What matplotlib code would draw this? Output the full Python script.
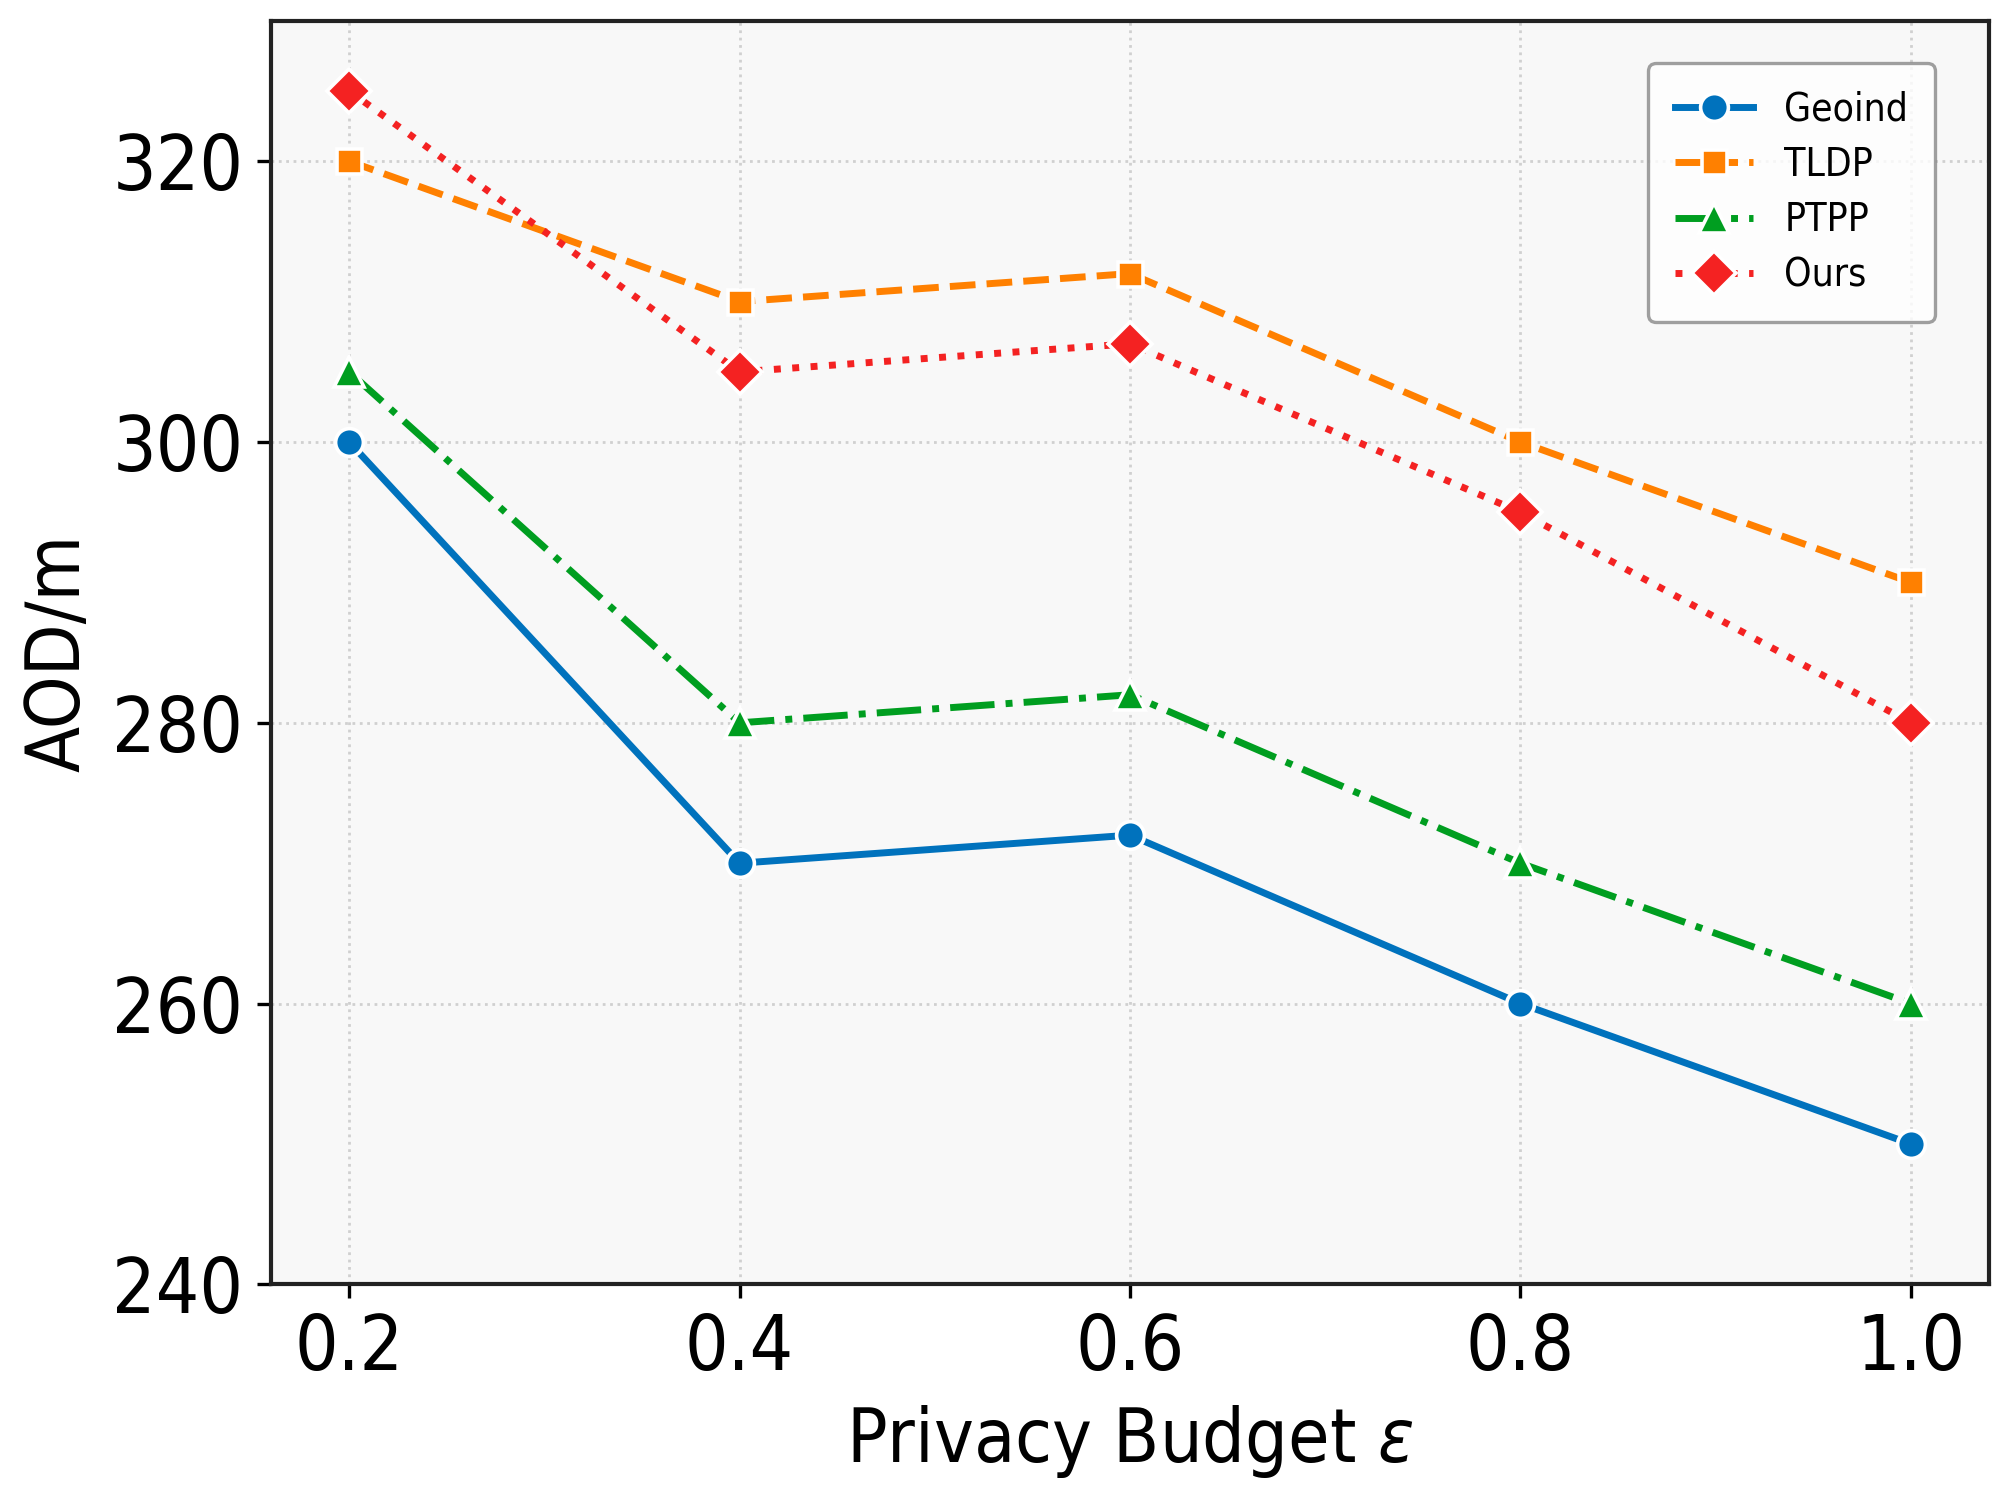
import matplotlib
matplotlib.use("Agg")
import matplotlib.pyplot as plt

# privacy budget values
epsilon = [0.2, 0.4, 0.6, 0.8, 1.0]

# average offset distance (m) per method
geoind = [300, 270, 272, 260, 250]
tldp = [320, 310, 312, 300, 290]
ptpp = [305, 280, 282, 270, 260]
ours = [325, 305, 307, 295, 280]

yticks = [240, 260, 280, 300, 320]

plt.rcParams['font.family'] = ['DejaVu Sans']
plt.rcParams['font.stretch'] = 'condensed'

fig = plt.figure(figsize=(10.07, 7.45), dpi=200)
ax = fig.add_axes([0.1346, 0.138, 0.853, 0.848])
ax.set_facecolor('#f8f8f8')

ax.plot(epsilon, geoind, '-', marker='o', color='#0072BD', lw=2.5, ms=10,
        mec='white', mew=1.3, label='Geoind')
ax.plot(epsilon, tldp, '--', marker='s', color='#FF8000', lw=2.5, ms=9,
        mec='white', mew=1.3, label='TLDP')
ax.plot(epsilon, ptpp, '-.', marker='^', color='#009E20', lw=2.5, ms=10.5,
        mec='white', mew=1.3, label='PTPP')
ax.plot(epsilon, ours, ':', marker='D', color='#F42222', lw=2.5, ms=11,
        mec='white', mew=1.3, label='Ours')

ax.set_ylim(240, 330)
ax.set_xlim(0.16, 1.04)
ax.set_xticks(epsilon)
ax.set_xticklabels(['%.1f' % e for e in epsilon])
ax.set_yticks(yticks)

ax.grid(True, linestyle=':', color='#d0d0d0', linewidth=1.0)
ax.set_axisbelow(True)

for sp in ax.spines.values():
    sp.set_linewidth(1.5)
    sp.set_color('#222222')

ax.tick_params(axis='both', labelsize=27.5, length=5, width=1.2, pad=5)

ax.set_xlabel('Privacy Budget $\\varepsilon$', fontsize=27, labelpad=6)
ax.set_ylabel('AOD/m', fontsize=27, labelpad=6)

leg = ax.legend(loc='upper right', fontsize=14, frameon=True, fancybox=True,
                bbox_to_anchor=(0.98, 0.982), borderpad=0.7, labelspacing=0.45,
                handlelength=2.0, handletextpad=0.8)
leg.get_frame().set_edgecolor('#888888')
leg.get_frame().set_facecolor('white')
leg.get_frame().set_linewidth(1.2)

fig.savefig('out.png', dpi=200)
